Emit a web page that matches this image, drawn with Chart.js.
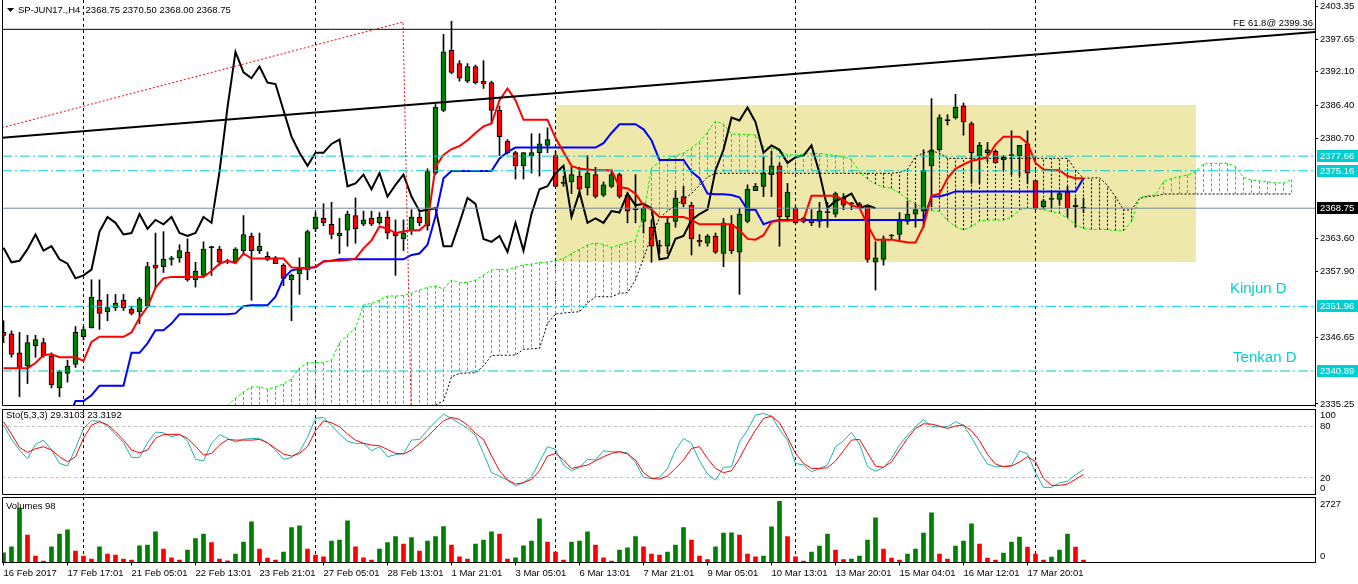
<!DOCTYPE html>
<html>
<head>
<meta charset="utf-8">
<title>SP-JUN17 H4</title>
<script src="https://cdn.jsdelivr.net/npm/chart.js@4.4.1/dist/chart.umd.min.js"></script>
<style>
  html, body { margin: 0; padding: 0; background: #ffffff; overflow: hidden; }
  #wrap { position: relative; width: 1358px; height: 584px; background: #ffffff; }
  #wrap canvas { position: absolute; left: 0; }
  #mainChart { top: 0; z-index: 3; }
  #stoChart { top: 406px; z-index: 2; }
  #volChart { top: 496px; z-index: 1; }
</style>
</head>
<body>
<div id="wrap">
  <canvas id="mainChart" width="1358" height="412"></canvas>
  <canvas id="stoChart" width="1358" height="91"></canvas>
  <canvas id="volChart" width="1358" height="88"></canvas>
</div>
<script>
// ---- price bars (H4), bar index 0..135 ----
const open = [
  2347.5, 2347.25, 2344.0, 2341.75, 2345.25, 2345.75, 2343.5, 2338.0, 2340.5, 2342.0,
  2346.75, 2348.25, 2353.0, 2351.0, 2351.75, 2353.0, 2351.5, 2351.0, 2352.0, 2359.0,
  2358.75, 2360.0, 2360.25, 2361.25, 2356.5, 2357.25, 2362.0, 2361.75, 2359.5, 2359.5,
  2361.5, 2364.0, 2361.5, 2360.5, 2360.25, 2359.0, 2356.5, 2357.5, 2358.25, 2365.25,
  2367.0, 2366.0, 2364.0, 2365.0, 2367.5, 2366.0, 2367.0, 2366.25, 2367.25, 2364.5,
  2363.5, 2365.0, 2367.25, 2365.75, 2374.75, 2385.5, 2395.75, 2393.5, 2390.5, 2393.0,
  2390.5, 2390.25, 2385.5, 2380.25, 2378.25, 2376.0, 2377.75, 2378.25, 2379.5, 2377.75,
  2373.0, 2373.25, 2374.25, 2372.25, 2374.5, 2371.0, 2372.5, 2374.5, 2371.0, 2368.5,
  2366.5, 2365.5, 2362.25, 2362.25, 2366.5, 2370.75, 2369.25, 2363.25, 2362.75, 2364.0,
  2361.0, 2366.0, 2361.25, 2366.5, 2371.75, 2372.5, 2374.5, 2376.0, 2367.25, 2368.75,
  2366.5, 2366.75, 2366.5, 2368.0, 2367.75, 2370.5, 2369.5, 2369.5, 2369.0, 2359.5,
  2360.0, 2364.0, 2364.25, 2366.5, 2367.75, 2368.25, 2376.0, 2378.75, 2383.75, 2384.25,
  2386.25, 2383.25, 2377.75, 2378.25, 2378.5, 2377.0, 2377.75, 2377.75, 2379.75, 2373.5,
  2369.0, 2370.25, 2370.25, 2371.5, 2369.0, 2368.75
];
const high = [
  2349.5, 2347.75, 2347.5, 2347.0, 2347.0, 2346.5, 2344.0, 2341.0, 2342.75, 2348.5,
  2348.5, 2356.5, 2356.5, 2354.0, 2354.0, 2354.0, 2352.0, 2353.5, 2359.5, 2364.5,
  2364.75, 2360.5, 2362.5, 2363.5, 2359.5, 2363.0, 2362.25, 2362.25, 2360.0, 2362.0,
  2367.5, 2364.5, 2364.5, 2361.25, 2360.5, 2359.25, 2357.5, 2360.25, 2365.0, 2368.0,
  2369.5, 2369.75, 2367.0, 2368.25, 2370.5, 2368.25, 2368.25, 2368.0, 2368.25, 2366.75,
  2366.75, 2368.5, 2368.0, 2375.5, 2386.5, 2398.5, 2400.75, 2394.0, 2393.5, 2393.25,
  2394.0, 2390.5, 2386.25, 2380.5, 2378.5, 2378.25, 2381.5, 2381.5, 2382.5, 2378.5,
  2374.25, 2375.75, 2375.75, 2377.75, 2375.75, 2373.25, 2375.25, 2374.75, 2371.5, 2374.5,
  2369.0, 2366.75, 2363.25, 2367.25, 2371.75, 2372.5, 2369.75, 2364.25, 2364.25, 2364.5,
  2367.0, 2367.5, 2368.75, 2372.75, 2373.0, 2377.5, 2378.5, 2376.5, 2373.0, 2369.0,
  2367.25, 2368.5, 2369.75, 2369.75, 2371.5, 2371.25, 2369.75, 2369.75, 2369.25, 2363.0,
  2364.0, 2364.25, 2368.0, 2370.0, 2369.5, 2378.75, 2387.5, 2384.75, 2384.75, 2388.25,
  2386.75, 2383.5, 2380.0, 2380.0, 2378.75, 2377.75, 2382.0, 2379.5, 2382.0, 2373.5,
  2370.25, 2371.5, 2371.5, 2372.5, 2370.5, 2370.5
];
const low = [
  2345.75, 2343.25, 2336.5, 2338.75, 2343.25, 2343.25, 2338.0, 2336.5, 2339.0, 2341.5,
  2346.25, 2348.25, 2348.0, 2349.5, 2351.25, 2351.25, 2350.5, 2349.0, 2351.75, 2355.0,
  2357.75, 2359.0, 2359.5, 2356.25, 2355.25, 2357.0, 2357.25, 2359.0, 2359.25, 2359.25,
  2360.75, 2353.0, 2361.0, 2359.75, 2359.25, 2355.5, 2349.5, 2354.0, 2356.5, 2364.75,
  2365.75, 2363.5, 2361.0, 2362.25, 2362.75, 2365.75, 2365.75, 2366.0, 2363.5, 2357.25,
  2361.5, 2364.25, 2365.75, 2365.0, 2374.5, 2385.25, 2391.75, 2390.5, 2390.25, 2390.0,
  2389.25, 2383.25, 2377.75, 2378.0, 2373.75, 2373.75, 2374.75, 2374.25, 2378.25, 2372.5,
  2372.5, 2371.25, 2370.75, 2371.0, 2370.5, 2370.75, 2372.25, 2370.5, 2366.25, 2366.25,
  2364.5, 2359.5, 2361.0, 2361.0, 2365.5, 2369.0, 2360.75, 2362.25, 2362.25, 2361.0,
  2358.75, 2361.0, 2354.0, 2366.25, 2371.75, 2370.75, 2370.75, 2362.25, 2366.75, 2366.25,
  2366.25, 2365.75, 2365.5, 2365.5, 2367.25, 2368.5, 2368.5, 2368.75, 2359.5, 2354.75,
  2359.0, 2363.5, 2363.0, 2366.0, 2365.5, 2365.5, 2369.0, 2378.5, 2383.0, 2384.0,
  2381.25, 2373.0, 2373.0, 2376.75, 2376.5, 2375.25, 2374.5, 2374.25, 2373.0, 2368.5,
  2368.75, 2368.75, 2369.25, 2367.25, 2365.5, 2368.0
];
const close = [
  2347.0, 2343.75, 2341.5, 2345.75, 2346.25, 2343.5, 2338.5, 2340.75, 2341.75, 2347.5,
  2348.0, 2353.5, 2350.75, 2351.75, 2352.5, 2351.75, 2350.75, 2353.25, 2358.75, 2358.5,
  2360.0, 2360.25, 2361.5, 2356.5, 2358.0, 2361.75, 2362.0, 2359.5, 2359.75, 2361.75,
  2364.25, 2361.5, 2362.25, 2360.0, 2359.25, 2356.75, 2357.25, 2358.25, 2364.75, 2367.25,
  2366.25, 2364.25, 2364.5, 2367.75, 2365.25, 2366.75, 2366.0, 2367.25, 2364.5, 2364.0,
  2364.5, 2367.25, 2366.25, 2375.0, 2386.0, 2395.5, 2392.0, 2391.0, 2393.0, 2390.25,
  2390.0, 2385.5, 2381.0, 2378.25, 2376.0, 2378.25, 2378.25, 2379.75, 2380.5, 2372.5,
  2373.0, 2374.5, 2372.0, 2374.75, 2370.75, 2372.75, 2374.5, 2370.75, 2368.25, 2368.5,
  2368.75, 2362.25, 2362.25, 2366.25, 2370.5, 2369.5, 2363.5, 2363.0, 2364.0, 2361.25,
  2366.25, 2361.5, 2367.75, 2372.0, 2372.5, 2374.75, 2376.0, 2367.25, 2371.5, 2366.25,
  2367.0, 2366.25, 2368.25, 2368.0, 2371.25, 2369.25, 2369.5, 2368.75, 2360.0, 2360.25,
  2363.5, 2364.0, 2366.75, 2367.75, 2368.5, 2375.25, 2378.75, 2384.25, 2383.75, 2386.0,
  2383.5, 2378.25, 2379.5, 2378.75, 2376.5, 2377.5, 2377.75, 2379.5, 2374.75, 2368.75,
  2370.0, 2370.5, 2371.25, 2368.75, 2369.25, 2368.75
];

// ---- Ichimoku (9, 26, 52) ----
const tenkan = [
  2341.375, 2341.375, 2341.375, 2341.375, 2342.25, 2343.625, 2343.75, 2343.25, 2343.25, 2343.25,
  2342.625, 2345.875, 2346.75, 2346.75, 2346.75, 2346.75, 2347.5, 2350.0, 2351.875, 2355.125,
  2356.75, 2357.0, 2357.0, 2357.0, 2357.0, 2357.0, 2358.0, 2359.25, 2359.75, 2359.375,
  2361.0, 2360.125, 2360.125, 2360.125, 2360.125, 2360.125, 2358.625, 2358.5, 2358.5, 2358.75,
  2359.625, 2359.75, 2359.75, 2359.875, 2360.125, 2361.875, 2363.25, 2365.625, 2365.25, 2364.5,
  2364.75, 2365.0, 2365.0, 2366.125, 2375.875, 2377.875, 2378.875, 2379.375, 2380.375, 2381.625,
  2382.75, 2383.25, 2387.25, 2389.25, 2387.25, 2383.875, 2383.875, 2383.875, 2383.875, 2380.75,
  2378.375, 2376.0, 2375.5, 2375.375, 2375.25, 2375.25, 2375.25, 2372.375, 2372.125, 2371.25,
  2369.25, 2368.5, 2367.25, 2367.25, 2367.25, 2367.25, 2366.75, 2366.0, 2366.0, 2366.0,
  2366.0, 2366.0, 2365.0, 2363.5, 2363.375, 2364.125, 2366.375, 2366.625, 2366.625, 2366.75,
  2366.75, 2370.875, 2370.875, 2370.875, 2370.875, 2370.125, 2369.25, 2368.875, 2365.875, 2363.375,
  2363.375, 2363.375, 2363.125, 2362.875, 2362.875, 2365.625, 2370.875, 2371.25, 2373.875, 2375.5,
  2376.25, 2376.875, 2377.125, 2377.5, 2379.625, 2381.0, 2381.0, 2381.0, 2379.875, 2376.5,
  2375.375, 2375.25, 2375.25, 2374.25, 2373.875, 2373.875
];
const kijun = [
  null, null, null, null, null, null, null, null, 2332.5, 2335.75,
  2335.75, 2336.75, 2338.375, 2338.375, 2338.375, 2338.375, 2344.0, 2344.0, 2345.625, 2347.875,
  2347.875, 2349.0, 2350.625, 2350.625, 2350.625, 2350.625, 2350.625, 2350.625, 2350.625, 2350.75,
  2352.0, 2352.125, 2352.125, 2352.125, 2353.625, 2356.75, 2358.125, 2358.375, 2358.5, 2358.625,
  2359.625, 2359.75, 2360.0, 2360.0, 2360.0, 2360.0, 2360.0, 2360.0, 2360.0, 2360.0,
  2360.0, 2360.75, 2361.0, 2362.5, 2367.375, 2373.875, 2375.125, 2375.125, 2375.125, 2375.125,
  2375.125, 2375.125, 2377.25, 2378.375, 2379.125, 2379.125, 2379.125, 2379.125, 2379.125, 2379.125,
  2379.125, 2379.125, 2379.125, 2379.125, 2379.125, 2379.875, 2381.625, 2383.125, 2383.125, 2383.125,
  2382.25, 2380.375, 2377.0, 2377.0, 2377.0, 2377.0, 2375.0, 2373.875, 2371.25, 2371.125,
  2371.125, 2371.0, 2370.625, 2368.5, 2368.5, 2366.0, 2366.5, 2366.75, 2366.75, 2366.75,
  2366.75, 2366.75, 2366.75, 2366.75, 2366.75, 2366.75, 2366.75, 2366.75, 2366.75, 2366.75,
  2366.75, 2366.75, 2366.75, 2366.75, 2366.75, 2366.75, 2370.75, 2370.75, 2371.125, 2371.625,
  2371.625, 2371.625, 2371.625, 2371.625, 2371.625, 2371.625, 2371.625, 2371.625, 2371.625, 2371.625,
  2371.625, 2371.625, 2371.625, 2371.625, 2371.625, 2373.875
];
// Senkou spans are plotted 26 bars ahead; values start at these bar indices
const senkouAStart = 28;
const senkouA = [
  2334.90, 2336.27, 2337.30, 2338.16, 2338.16, 2337.76, 2338.16, 2338.67, 2339.53, 2341.41,
  2342.32, 2342.32, 2342.32, 2342.78, 2345.69, 2347.06, 2348.25, 2352.19, 2352.48, 2353.04,
  2353.73, 2353.73, 2353.81, 2354.19, 2354.76, 2355.18, 2355.44, 2354.93, 2356.47, 2356.00,
  2356.04, 2356.47, 2357.32, 2358.18, 2358.30, 2358.18, 2358.69, 2359.03, 2359.20, 2359.43,
  2359.55, 2359.72, 2360.18, 2361.00, 2361.69, 2362.46, 2362.80, 2362.54, 2362.06, 2362.46,
  2362.88, 2363.23, 2367.59, 2375.63, 2376.71, 2377.17, 2377.69, 2378.20, 2379.05, 2380.13,
  2381.79, 2383.67, 2383.16, 2381.45, 2381.42, 2381.36, 2381.28, 2379.28, 2379.05, 2378.54,
  2377.86, 2377.86, 2378.03, 2378.15, 2378.11, 2377.94, 2377.77, 2377.57, 2377.09, 2375.00,
  2373.75, 2372.89, 2372.33, 2372.16, 2371.35, 2370.24, 2369.47, 2368.87, 2368.36, 2368.19,
  2366.65, 2365.59, 2365.02, 2365.59, 2366.56, 2366.73, 2366.73, 2366.73, 2367.25, 2368.45,
  2368.74, 2368.62, 2368.50, 2368.14, 2367.88, 2366.99, 2365.96, 2365.28, 2365.14, 2365.11,
  2365.07, 2364.94, 2364.85, 2366.48, 2370.50, 2370.93, 2371.01, 2373.32, 2373.84, 2374.18,
  2374.43, 2375.00, 2376.32, 2376.40, 2376.44, 2376.44, 2375.85, 2374.01, 2373.58, 2373.41,
  2373.29, 2373.07, 2373.07, 2373.66
];
const senkouBStart = 52;
const senkouB = [
  2334.90, 2334.99, 2335.08, 2335.76, 2339.87, 2340.50, 2340.55, 2340.60, 2341.75, 2343.55,
  2343.58, 2343.60, 2343.63, 2344.61, 2344.69, 2344.78, 2349.02, 2350.65, 2350.82, 2350.94,
  2351.04, 2352.53, 2353.61, 2353.61, 2353.61, 2354.19, 2354.29, 2356.47, 2360.18, 2364.00,
  2367.08, 2368.27, 2369.22, 2370.24, 2371.27, 2372.64, 2374.09, 2374.73, 2374.73, 2374.73,
  2374.73, 2374.73, 2374.73, 2374.73, 2374.73, 2374.73, 2374.73, 2374.73, 2374.73, 2374.73,
  2374.73, 2374.73, 2374.73, 2374.73, 2374.73, 2374.73, 2374.73, 2374.73, 2374.73, 2374.73,
  2374.86, 2375.38, 2377.60, 2378.20, 2378.54, 2378.20, 2377.29, 2377.29, 2377.29, 2377.29,
  2377.29, 2377.29, 2377.29, 2377.29, 2377.29, 2377.29, 2377.29, 2377.29, 2377.29, 2377.29,
  2377.29, 2377.29, 2375.29, 2373.87, 2373.92, 2373.97, 2372.64, 2370.72, 2368.45, 2368.45,
  2370.41, 2370.76, 2370.84, 2371.18, 2371.18, 2371.18, 2371.18, 2371.18, 2371.18, 2371.18,
  2371.18, 2371.18, 2371.18, 2371.18, 2371.18, 2371.18, 2371.18, 2371.18, 2371.18, 2371.18
];
const chikouShift = 26;

// ---- Stochastic (5,3,3) ----
const stochK = [
  81.2, 64.4, 52.0, 41.8, 58.6, 63.6, 52.0, 36.4, 33.3, 53.9,
  77.3, 86.2, 85.9, 80.0, 70.7, 60.5, 43.4, 43.4, 60.5, 73.0,
  72.2, 67.5, 70.3, 62.9, 41.1, 39.5, 59.8, 69.9, 65.6, 61.3,
  64.8, 65.6, 65.6, 60.5, 52.0, 41.1, 43.4, 50.0, 66.8, 89.0,
  90.1, 80.4, 70.7, 62.1, 59.8, 59.8, 51.2, 55.9, 44.2, 46.5,
  48.1, 63.6, 64.4, 75.3, 85.1, 94.0, 89.0, 83.1, 77.3, 69.1,
  48.1, 25.5, 21.6, 16.9, 9.9, 13.8, 20.8, 38.3, 55.9, 52.7,
  34.4, 27.8, 31.7, 41.1, 40.3, 51.2, 50.0, 50.0, 48.8, 37.2,
  20.0, 18.8, 20.0, 30.5, 52.0, 65.6, 59.8, 39.5, 23.9, 16.9,
  31.7, 32.5, 61.7, 75.3, 92.9, 94.8, 91.7, 76.1, 63.6, 36.4,
  34.4, 26.6, 30.5, 34.4, 55.9, 62.9, 72.6, 59.0, 32.5, 27.0,
  31.7, 42.2, 57.8, 69.5, 79.2, 87.8, 79.2, 79.2, 79.2, 85.1,
  80.8, 66.8, 50.0, 35.6, 32.5, 32.9, 34.0, 51.2, 47.3, 25.5,
  8.3, 8.3, 13.8, 15.3, 23.1, 29.3103
];
const stochD = [
  85.1, 70.7, 55.1, 49.2, 53.5, 55.9, 52.0, 44.2, 38.3, 44.2,
  65.6, 81.2, 85.1, 81.6, 73.4, 63.6, 52.0, 48.8, 52.0, 65.6,
  70.3, 70.3, 70.3, 65.6, 56.6, 46.1, 48.1, 57.8, 64.4, 63.6,
  63.6, 63.6, 64.4, 60.5, 53.9, 47.3, 44.9, 48.1, 55.9, 74.6,
  86.2, 83.9, 79.2, 70.7, 63.6, 59.8, 57.8, 57.0, 52.7, 48.1,
  47.3, 52.0, 59.8, 67.5, 77.3, 86.2, 90.1, 87.8, 81.2, 71.4,
  64.4, 45.3, 27.8, 16.9, 12.2, 13.8, 17.7, 27.8, 44.9, 48.1,
  40.3, 30.5, 32.5, 34.4, 39.5, 44.2, 48.1, 50.0, 47.3, 40.3,
  25.5, 18.8, 18.1, 21.6, 30.5, 40.3, 53.9, 55.9, 42.2, 30.5,
  25.5, 27.8, 42.2, 59.8, 75.3, 89.0, 91.7, 83.9, 66.8, 48.1,
  36.4, 30.5, 30.5, 31.3, 39.1, 51.2, 63.6, 64.4, 48.8, 33.3,
  31.7, 38.3, 52.0, 65.6, 77.3, 82.7, 82.3, 80.0, 77.3, 80.0,
  81.2, 74.6, 62.9, 46.9, 35.6, 32.5, 33.3, 37.9, 44.2, 38.3,
  18.8, 10.7, 10.7, 12.2, 17.7, 23.3192
];
const stochLevels = [80, 20];

// ---- Volumes ----
const volume = [
  405, 657, 2265, 1146, 266, 56, 657, 1188, 1356, 475,
  266, 140, 657, 350, 308, 140, 98, 699, 727, 1272,
  559, 196, 98, 517, 993, 1188, 825, 140, 70, 350,
  853, 1692, 559, 182, 98, 433, 1454, 1524, 559, 308,
  238, 895, 937, 1734, 657, 196, 98, 559, 825, 1076,
  769, 1035, 475, 895, 1076, 1496, 727, 238, 140, 769,
  937, 1272, 1188, 140, 196, 699, 895, 1817, 853, 433,
  98, 853, 895, 1272, 727, 196, 56, 517, 615, 1076,
  657, 350, 308, 433, 727, 1454, 937, 266, 126, 657,
  1230, 1240, 1146, 350, 238, 266, 1482, 2544, 1076, 238,
  56, 433, 685, 1188, 517, 126, 140, 266, 937, 1859,
  559, 182, 98, 350, 559, 1230, 2069, 350, 140, 685,
  895, 1608, 769, 182, 98, 391, 853, 1062, 643, 350,
  98, 224, 517, 1188, 643, 98
];
const volumeMax = 2727;

// ---- axes ----
const timeTickBars = [0, 8, 16, 24, 32, 40, 48, 56, 64, 72, 80, 88, 96, 104, 112, 120, 128];
const timeLabels = ['16 Feb 2017', '17 Feb 17:01', '21 Feb 05:01', '22 Feb 13:01', '23 Feb 21:01',
  '27 Feb 05:01', '28 Feb 13:01', '1 Mar 21:01', '3 Mar 05:01', '6 Mar 13:01', '7 Mar 21:01',
  '9 Mar 05:01', '10 Mar 13:01', '13 Mar 20:01', '15 Mar 04:01', '16 Mar 12:01', '17 Mar 20:01'];
const priceTicks = [2403.35, 2397.65, 2392.10, 2386.40, 2380.70, 2363.60, 2357.90, 2346.65, 2335.25];
const separatorBars = [10, 39, 69, 99, 129];

// ---- chart objects ----
const trendLine = [[-0.19, 2380.82], [163.94, 2398.90]];
const feLegs = [[-0.19, 2382.53], [49.94, 2400.62], [50.95, 2334.5]];
const feLevel = 2399.36;
const bidPrice = 2368.75;
const cyanLevels = [2377.66, 2375.16, 2351.96, 2340.89];
const boxBars = [69, 149];
const boxPrices = [2386.41, 2359.60];
const textObjects = [
  { text: 'Kinjun D', bar: 153.3, price: 2354.93 },
  { text: 'Tenkan D', bar: 153.7, price: 2343.12 }
];

const FONT = "'Liberation Sans', Arial, sans-serif";
const CYAN = '#00ced1';
const GREEN = '#00f000';
const X_MIN = -0.1875;
const X_MAX = X_MIN + 1313 / 8;

Chart.defaults.font.family = FONT;
Chart.defaults.font.size = 9.5;
Chart.defaults.color = '#000';
Chart.defaults.animation = false;
Chart.defaults.elements.point.radius = 0;
Chart.defaults.elements.line.tension = 0;

function xScale(show) {
  return {
    type: 'linear', min: X_MIN, max: X_MAX, offset: false, display: show,
    grid: { display: show, offset: false, drawOnChartArea: false, drawTicks: true, tickLength: 3, color: '#000' },
    border: { display: show, color: '#000' },
    afterBuildTicks: s => { s.ticks = timeTickBars.map(v => ({ value: v })); },
    afterFit: s => { s.paddingLeft = 0; s.paddingRight = 0; if (show) s.height = 21.5; },
    ticks: { autoSkip: false, maxRotation: 0, minRotation: 0, align: 'start', padding: 2, color: '#000',
      font: { size: 9.5 }, callback: (v, i) => timeLabels[i] }
  };
}
function hiddenY(min, max) {
  return {
    position: 'right', min, max,
    ticks: { display: false }, grid: { display: false }, border: { display: true, color: '#000' },
    afterFit: s => { s.width = 43; s.paddingTop = 0; s.paddingBottom = 0; }
  };
}
function baseOptions(padding) {
  return {
    responsive: false, animation: false, events: [],
    layout: { padding },
    plugins: { legend: { display: false }, tooltip: { enabled: false } }
  };
}
function drawSeparators(chart) {
  const { ctx, chartArea: a, scales: { x } } = chart;
  ctx.save();
  ctx.strokeStyle = '#000'; ctx.lineWidth = 1; ctx.setLineDash([3, 3]);
  separatorBars.forEach(b => {
    const px = Math.round(x.getPixelForValue(b) - 0.5) + 0.5;
    ctx.beginPath(); ctx.moveTo(px, a.top); ctx.lineTo(px, a.bottom); ctx.stroke();
  });
  ctx.restore();
}
function drawFrame(chart) {
  const { ctx, chartArea: a } = chart;
  ctx.save();
  ctx.strokeStyle = '#000'; ctx.lineWidth = 1;
  const t = Math.floor(a.top) + 0.5, b = Math.floor(a.bottom - 0.01) + 0.5;
  ctx.beginPath();
  ctx.moveTo(a.right, t); ctx.lineTo(a.left + 0.5, t); ctx.lineTo(a.left + 0.5, b); ctx.lineTo(a.right, b);
  ctx.stroke();
  ctx.restore();
}
const hline = v => [{ x: X_MIN, y: v }, { x: X_MAX, y: v }];
const pts = arr => arr.map(([x, y]) => ({ x, y }));
const series = (arr, start) => arr.map((v, i) => ({ x: start + i, y: v }));

// ---------------- main price window ----------------
const candleColor = open.map((o, i) => close[i] > o ? '#008000' : (close[i] < o ? '#ff0000' : '#000000'));

const mainDecor = {
  id: 'mainDecor',
  beforeDatasetsDraw(chart) {
    const { ctx, chartArea: a, scales: { x, y } } = chart;
    ctx.save();
    ctx.beginPath(); ctx.rect(a.left, a.top, a.right - a.left, a.bottom - a.top); ctx.clip();
    // rectangle object
    const x0 = x.getPixelForValue(boxBars[0]), x1 = x.getPixelForValue(boxBars[1]);
    const y0 = y.getPixelForValue(boxPrices[0]), y1 = y.getPixelForValue(boxPrices[1]);
    ctx.fillStyle = '#eee8aa';
    ctx.fillRect(Math.round(x0), Math.round(y0), Math.round(x1 - x0), Math.round(y1 - y0));
    ctx.restore();
    drawSeparators(chart);
    // Kumo hatching
    ctx.save();
    ctx.beginPath(); ctx.rect(a.left, a.top, a.right - a.left, a.bottom - a.top); ctx.clip();
    ctx.lineWidth = 1;
    senkouA.forEach((va, j) => {
      const bar = senkouAStart + j;
      const k = bar - senkouBStart;
      const vb = k >= 0 ? senkouB[k] : null;
      const px = Math.round(x.getPixelForValue(bar) - 0.5) + 0.5;
      const ya = y.getPixelForValue(va);
      const yb = vb === null ? a.bottom : y.getPixelForValue(vb);
      const up = vb === null || va >= vb;
      ctx.strokeStyle = up ? GREEN : '#000';
      ctx.setLineDash(up ? [3, 2] : [2, 2]);
      ctx.beginPath(); ctx.moveTo(px, ya); ctx.lineTo(px, yb); ctx.stroke();
    });
    ctx.restore();
  },
  afterDraw(chart) {
    const { ctx, chartArea: a, scales: { x, y } } = chart;
    ctx.save();
    // left + bottom frame
    ctx.strokeStyle = '#000'; ctx.lineWidth = 1;
    ctx.beginPath();
    ctx.moveTo(a.left + 0.5, a.top); ctx.lineTo(a.left + 0.5, a.bottom - 0.5); ctx.lineTo(a.right, a.bottom - 0.5);
    ctx.stroke();
    // header
    ctx.fillStyle = '#000';
    ctx.beginPath(); ctx.moveTo(7, 8); ctx.lineTo(14, 8); ctx.lineTo(10.5, 12); ctx.closePath(); ctx.fill();
    ctx.font = '9.5px ' + FONT; ctx.textBaseline = 'middle'; ctx.textAlign = 'left';
    ctx.fillText('SP-JUN17.,H4  2368.75 2370.50 2368.00 2368.75', 18, 10.5);
    ctx.textAlign = 'right';
    ctx.fillText('FE 61.8@ ' + feLevel.toFixed(2), a.right - 2, y.getPixelForValue(feLevel) - 5.5);
    // text objects
    ctx.font = '15px ' + FONT; ctx.fillStyle = CYAN; ctx.textAlign = 'left';
    textObjects.forEach(t => ctx.fillText(t.text, x.getPixelForValue(t.bar), y.getPixelForValue(t.price)));
    // price boxes on the axis
    ctx.font = '9.5px ' + FONT;
    const boxes = cyanLevels.map(v => [v, CYAN]).concat([[bidPrice, '#000']]);
    boxes.forEach(([v, bg]) => {
      const py = Math.round(y.getPixelForValue(v));
      ctx.fillStyle = bg;
      ctx.fillRect(a.right + 2, py - 6, 41, 12);
      ctx.fillStyle = '#fff';
      ctx.fillText(v.toFixed(2), a.right + 5, py + 0.5);
    });
    ctx.restore();
  }
};

new Chart(document.getElementById('mainChart'), {
  type: 'bar',
  data: {
    datasets: [
      { type: 'line', label: 'Trend', data: pts(trendLine), borderColor: '#000', borderWidth: 2, order: 0 },
      { type: 'line', label: 'FE', data: pts(feLegs), borderColor: '#ff0000', borderWidth: 1, borderDash: [2, 2], order: 0 },
      { type: 'line', label: 'FE 61.8', data: hline(feLevel), borderColor: '#000', borderWidth: 1, order: 0 },
      ...cyanLevels.map(v => ({ type: 'line', label: String(v), data: hline(v), borderColor: CYAN, borderWidth: 1, borderDash: [10, 3, 2, 3], order: 1 })),
      { type: 'line', label: 'Bid', data: hline(bidPrice), borderColor: '#778899', borderWidth: 1, order: 1 },
      { type: 'line', label: 'Tenkan-sen', data: series(tenkan, 0), borderColor: '#ff0000', borderWidth: 2, order: 2 },
      { type: 'line', label: 'Kijun-sen', data: series(kijun, 0), borderColor: '#0000ff', borderWidth: 2, order: 2 },
      { type: 'line', label: 'Chikou Span', data: series(close.slice(chikouShift), 0), borderColor: '#000', borderWidth: 2, order: 2 },
      { type: 'line', label: 'Senkou Span A', data: series(senkouA, senkouAStart), borderColor: GREEN, borderWidth: 1, borderDash: [3, 2], order: 3 },
      { type: 'line', label: 'Senkou Span B', data: series(senkouB, senkouBStart), borderColor: '#000', borderWidth: 1, borderDash: [2, 2], order: 3 },
      { type: 'bar', label: 'Body', data: open.map((o, i) => ({ x: i, y: [o, close[i]] })),
        backgroundColor: candleColor, borderColor: '#000', borderWidth: 1, borderSkipped: false,
        barThickness: 5, grouped: false, minBarLength: 1, order: 4 },
      { type: 'bar', label: 'Wick', data: low.map((l, i) => ({ x: i, y: [l, high[i]] })),
        backgroundColor: '#000', borderWidth: 0, barThickness: 1, grouped: false, order: 5 }
    ]
  },
  options: Object.assign(baseOptions({ left: 2, right: 0, top: 0, bottom: 6 }), {
    scales: {
      x: xScale(false),
      y: {
        position: 'right', min: 2404.38 - 0.17112 * 406, max: 2404.38,
        afterBuildTicks: s => { s.ticks = priceTicks.map(v => ({ value: v })); },
        afterFit: s => { s.width = 43; s.paddingTop = 0; s.paddingBottom = 0; },
        grid: { drawOnChartArea: false, drawTicks: true, tickLength: 3, color: '#000' },
        border: { display: true, color: '#000' },
        ticks: { autoSkip: false, padding: 2, color: '#000', font: { size: 9.5 }, callback: v => Number(v).toFixed(2) }
      }
    }
  }),
  plugins: [mainDecor]
});

// ---------------- Stochastic window ----------------
const stoDecor = {
  id: 'stoDecor',
  beforeDatasetsDraw(chart) {
    const { ctx, chartArea: a, scales: { y } } = chart;
    drawSeparators(chart);
    ctx.save();
    ctx.strokeStyle = '#c0c0c0'; ctx.lineWidth = 1; ctx.setLineDash([3, 3]);
    stochLevels.forEach(l => {
      const py = Math.round(y.getPixelForValue(l) - 0.5) + 0.5;
      ctx.beginPath(); ctx.moveTo(a.left, py); ctx.lineTo(a.right, py); ctx.stroke();
    });
    ctx.restore();
  },
  afterDraw(chart) {
    const { ctx, chartArea: a, scales: { y } } = chart;
    drawFrame(chart);
    ctx.save();
    ctx.fillStyle = '#000'; ctx.font = '9.5px ' + FONT; ctx.textBaseline = 'middle'; ctx.textAlign = 'left';
    ctx.fillText('Sto(5,3,3) ' + stochK[stochK.length - 1].toFixed(4) + ' ' + stochD[stochD.length - 1].toFixed(4), 6, 9.5);
    const lx = a.right + 5;
    ctx.fillText('100', lx, y.getPixelForValue(100) + 6);
    stochLevels.forEach(l => ctx.fillText(String(l), lx, y.getPixelForValue(l) + 0.5));
    ctx.fillText('0', lx, y.getPixelForValue(0) - 6);
    ctx.restore();
  }
};

new Chart(document.getElementById('stoChart'), {
  type: 'line',
  data: {
    datasets: [
      { label: 'Signal', data: series(stochD, 0), borderColor: '#ff0000', borderWidth: 1, order: 0 },
      { label: 'Main', data: series(stochK, 0), borderColor: '#20b2aa', borderWidth: 1, order: 1 }
    ]
  },
  options: Object.assign(baseOptions({ left: 2, right: 0, top: 3, bottom: 2.5 }), {
    scales: { x: xScale(false), y: hiddenY(0, 100) }
  }),
  plugins: [stoDecor]
});

// ---------------- Volumes window ----------------
const volColor = volume.map((v, i) => (i === 0 || v > volume[i - 1]) ? '#008000' : '#ff0000');
const volDecor = {
  id: 'volDecor',
  beforeDatasetsDraw(chart) { drawSeparators(chart); },
  afterDraw(chart) {
    const { ctx, chartArea: a, scales: { y } } = chart;
    drawFrame(chart);
    ctx.save();
    ctx.fillStyle = '#000'; ctx.font = '9.5px ' + FONT; ctx.textBaseline = 'middle'; ctx.textAlign = 'left';
    ctx.fillText('Volumes ' + volume[volume.length - 1], 6, 10);
    ctx.fillText(String(volumeMax), a.right + 5, y.getPixelForValue(volumeMax) + 7);
    ctx.fillText('0', a.right + 5, y.getPixelForValue(0) - 6);
    ctx.restore();
  }
};

new Chart(document.getElementById('volChart'), {
  type: 'bar',
  data: {
    datasets: [
      { label: 'Volumes', data: series(volume, 0), backgroundColor: volColor, borderWidth: 0,
        barThickness: 4, grouped: false }
    ]
  },
  options: Object.assign(baseOptions({ left: 2, right: 0, top: 1, bottom: 0 }), {
    scales: { x: xScale(true), y: hiddenY(0, volumeMax) }
  }),
  plugins: [volDecor]
});
</script>
</body>
</html>
